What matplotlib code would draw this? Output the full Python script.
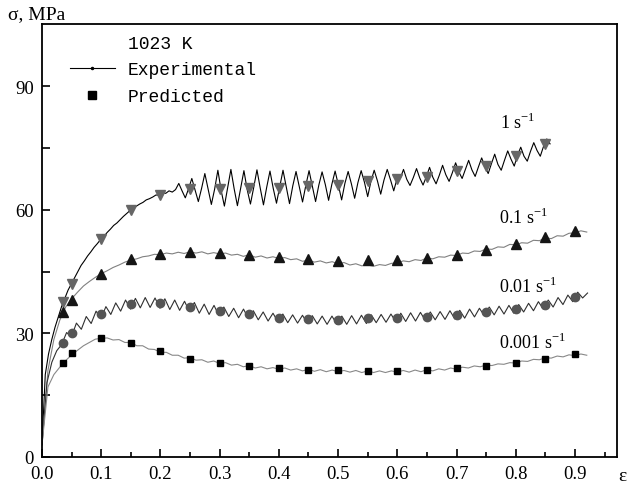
import numpy as np
import matplotlib
matplotlib.use("Agg")
import matplotlib.pyplot as plt
from matplotlib.lines import Line2D

plt.rcParams["font.family"] = "Liberation Serif"
plt.rcParams["mathtext.fontset"] = "custom"
plt.rcParams["mathtext.rm"] = "Liberation Serif"

# predicted points (strain, stress)
pred_strain = [0.035, 0.05, 0.1, 0.15, 0.2, 0.25, 0.3, 0.35, 0.4, 0.45,
               0.5, 0.55, 0.6, 0.65, 0.7, 0.75, 0.8, 0.85, 0.9]
pred_1 = [37.5, 42.0, 52.8, 60.0, 63.5, 65.0, 65.0, 65.2, 65.4, 65.8,
          66.0, 67.0, 67.5, 68.0, 69.4, 70.6, 73.1, 75.9]
pred_01 = [35.3, 38.1, 44.5, 48.1, 49.3, 49.7, 49.5, 49.1, 48.5, 48.0,
           47.5, 47.7, 47.9, 48.3, 49.1, 50.3, 51.7, 53.3, 54.8]
pred_001 = [27.7, 30.2, 34.8, 37.2, 37.4, 36.5, 35.5, 34.7, 33.8, 33.4,
            33.2, 33.7, 33.8, 34.1, 34.5, 35.3, 35.9, 36.9, 38.8]
pred_0001 = [22.8, 25.3, 29.0, 27.7, 25.7, 23.9, 22.9, 22.0, 21.6, 21.2,
             21.0, 20.9, 20.9, 21.0, 21.5, 22.1, 22.7, 23.9, 25.0]

# experimental curves, sampled at a fixed strain step
step_1 = 0.0055
exp_1 = [3.0, 20.0, 25.0, 28.5, 31.5, 34.0, 36.5, 38.5, 40.5, 42.0,
         43.5, 45.0, 46.5, 47.6, 48.8, 49.8, 50.9, 51.8, 52.8, 53.5,
         54.5, 55.3, 56.2, 56.8, 57.6, 58.4, 59.1, 59.8, 60.2, 60.9,
         61.4, 61.8, 62.4, 62.7, 63.1, 63.6, 63.5, 64.1, 64.0, 64.6, 64.3,
         64.9, 66.4, 64.6, 62.9, 65.1, 67.6, 64.8, 62.0, 65.2, 68.8,
         65.0, 61.3, 65.0, 69.6, 64.7, 60.9, 65.3, 69.8, 65.1, 61.0,
         65.2, 69.5, 64.9, 61.4, 65.4, 69.7, 65.3, 61.2, 65.5, 69.4,
         65.2, 61.6, 65.6, 69.6, 65.5, 61.5, 65.8, 69.3, 65.6, 61.9,
         65.9, 69.5, 65.8, 62.0, 66.0, 69.2, 66.1, 62.3, 66.2, 69.4,
         66.0, 62.4, 66.4, 69.3, 66.3, 62.8, 66.6, 69.5, 66.7, 63.2,
         66.9, 69.6, 67.0, 63.8, 67.2, 69.8, 67.3, 64.6, 67.5,
         67.6, 69.8, 67.4, 65.9, 67.8, 70.0, 67.7, 66.0,
         68.0, 70.3, 67.9, 66.3, 68.4, 70.8, 68.5, 66.9,
         69.0, 71.4, 69.2, 67.6, 69.8, 72.0, 69.7, 68.1,
         70.4, 72.6, 70.5, 68.8, 71.2, 73.5, 71.0, 69.6,
         72.0, 74.3, 72.3, 70.6, 73.2, 75.2, 73.0, 71.8,
         74.2, 76.3, 74.4, 73.0, 75.4, 77.2, 76.0]

step_01 = 0.01
exp_01 = [3.0, 21.0, 28.5, 33.2, 36.4, 38.4, 40.0, 41.5, 42.6, 43.6,
          44.5, 45.2, 46.0, 46.6, 47.3, 47.8, 48.1, 48.6, 48.8, 49.2,
          49.1, 49.5, 49.3, 49.7, 49.4, 49.8, 49.5, 49.8, 49.3, 49.6,
          49.3, 49.5, 49.0, 49.2, 48.7, 49.1, 48.5, 48.8, 48.3, 48.6,
          48.2, 48.4, 47.9, 48.1, 47.5, 47.8, 47.3, 47.6, 47.1, 47.4,
          46.9, 47.2, 46.6, 46.9, 46.4, 46.6, 46.3, 46.7, 46.5, 47.0,
          47.1, 47.6, 47.4, 47.9, 47.7, 48.3, 48.1, 48.6, 48.5, 49.0,
          48.9, 49.5, 49.4, 50.0, 49.9, 50.5, 50.4, 51.0, 50.9, 51.6,
          51.5, 52.0, 51.9, 52.6, 52.5, 53.2, 53.0, 53.7, 53.6, 54.3,
          54.4, 54.9, 54.6]

step_001 = 0.0083
exp_001 = [3.0, 18.0, 23.0, 25.8, 27.3, 30.2, 29.2, 32.5, 31.0, 34.1,
           32.4, 35.4, 33.6, 36.5, 34.6, 37.4, 35.4, 38.1, 35.9, 38.5,
           36.2, 38.7, 36.3, 38.6, 36.1, 38.4, 35.8, 38.1, 35.6, 37.8,
           35.3, 37.5, 34.9, 37.1, 34.6, 36.8, 34.3, 36.4, 34.1, 36.1,
           33.8, 35.9, 33.6, 35.5, 33.3, 35.2, 33.0, 34.9, 32.8, 34.7,
           32.6, 34.5, 32.5, 34.4, 32.4, 34.3, 32.3, 34.2, 32.2, 34.2,
           32.2, 34.2, 32.2, 34.3, 32.3, 34.4, 32.4, 34.5, 32.6, 34.6,
           32.7, 34.7, 32.8, 34.9, 32.9, 35.0, 33.0, 35.1, 33.1, 35.2,
           33.3, 35.3, 33.4, 35.5, 33.5, 35.6, 33.7, 35.9, 34.0, 36.1,
           34.3, 36.4, 34.5, 36.6, 34.7, 36.8, 34.9, 37.0, 35.2, 37.3,
           35.5, 37.7, 35.9, 38.1, 36.4, 38.7, 37.0, 39.3, 37.7, 40.0,
           38.6, 39.8]

step_0001 = 0.01
exp_0001 = [3.0, 17.0, 20.0, 21.8, 23.4, 24.8, 25.9, 27.0, 27.8, 28.6,
            28.8, 28.9, 28.4, 28.5, 27.8, 27.8, 27.0, 27.0, 26.2, 26.1,
            25.4, 25.4, 24.7, 24.7, 24.0, 24.1, 23.5, 23.6, 23.0, 23.3,
            22.7, 22.9, 22.3, 22.5, 21.9, 22.2, 21.6, 21.9, 21.4, 21.7,
            21.3, 21.6, 21.1, 21.4, 20.9, 21.3, 20.8, 21.2, 20.7, 21.1,
            20.7, 21.0, 20.6, 21.0, 20.5, 20.9, 20.5, 20.9, 20.5, 20.9,
            20.6, 21.0, 20.6, 21.1, 20.7, 21.2, 20.9, 21.4, 21.1, 21.6,
            21.3, 21.8, 21.6, 22.1, 21.9, 22.3, 22.2, 22.6, 22.5, 22.9,
            22.8, 23.3, 23.2, 23.7, 23.6, 24.1, 24.0, 24.5, 24.3, 24.8,
            24.6, 25.0, 24.7]

rate_labels = ["1 s$^{\\mathregular{-1}}$", "0.1 s$^{\\mathregular{-1}}$",
               "0.01 s$^{\\mathregular{-1}}$", "0.001 s$^{\\mathregular{-1}}$"]
rate_label_pos = [(0.774, 81.3), (0.772, 58.3), (0.772, 41.5), (0.772, 27.9)]

fig = plt.figure(figsize=(6.27, 4.89), dpi=100)
ax = fig.add_axes([0.067, 0.0634, 0.917, 0.8855])

curves = [
    (exp_1, step_1, pred_1, "#000000", "v", "#666666", 7.5),
    (exp_01, step_01, pred_01, "#808080", "^", "#151515", 7.5),
    (exp_001, step_001, pred_001, "#303030", "o", "#555555", 6),
    (exp_0001, step_0001, pred_0001, "#888888", "s", "#000000", 5),
]
for exp, step, pred, lc, mk, mc, ms in curves:
    strain = np.arange(len(exp)) * step
    ax.plot(strain, exp, color=lc, lw=0.8, zorder=2)
    ax.plot(pred_strain[:len(pred)], pred, ls="none", marker=mk, ms=ms,
            color=mc, mec=mc, zorder=3)

for lab, (x, y) in zip(rate_labels, rate_label_pos):
    ax.text(x, y, lab, fontsize=13, ha="left", va="center")

ax.set_xlim(0, 0.971)
ax.set_ylim(0, 105.1)
ax.set_xticks(np.arange(0, 0.95, 0.1))
ax.set_xticks(np.arange(0.05, 0.96, 0.1), minor=True)
ax.set_yticks([0, 30, 60, 90])
ax.set_yticks([15, 45, 75], minor=True)
ax.xaxis.set_major_formatter(matplotlib.ticker.FormatStrFormatter("%.1f"))
ax.tick_params(which="both", direction="in", width=1.2, labelsize=13.5)
ax.tick_params(axis="x", which="major", length=6, pad=6)
ax.tick_params(axis="x", which="minor", length=3.5)
ax.tick_params(axis="y", which="both", length=5.5, pad=6)
for s in ax.spines.values():
    s.set_linewidth(1.3)

# legend
ax.text(0.1496, 0.954, "1023 K", transform=ax.transAxes, fontsize=13,
        family="Liberation Mono", ha="left", va="center")
handles = [Line2D([], [], color="k", lw=0.8, marker=".", ms=3),
           Line2D([], [], ls="none", marker="s", color="k", ms=6)]
ax.legend(handles, ["Experimental", "Predicted"], loc="upper left",
          bbox_to_anchor=(0.048, 0.914), frameon=False, borderpad=0,
          borderaxespad=0, handlelength=2.5, handletextpad=0.7,
          labelspacing=0.55, prop={"family": "Liberation Mono", "size": 13})

fig.text(8 / 627, 1 - 15 / 489, "σ, MPa", fontsize=14, ha="left", va="center")
ax.text(1.0087, -0.042, "ε", transform=ax.transAxes, fontsize=14,
        ha="center", va="center")

fig.savefig("out.png", dpi=100)
